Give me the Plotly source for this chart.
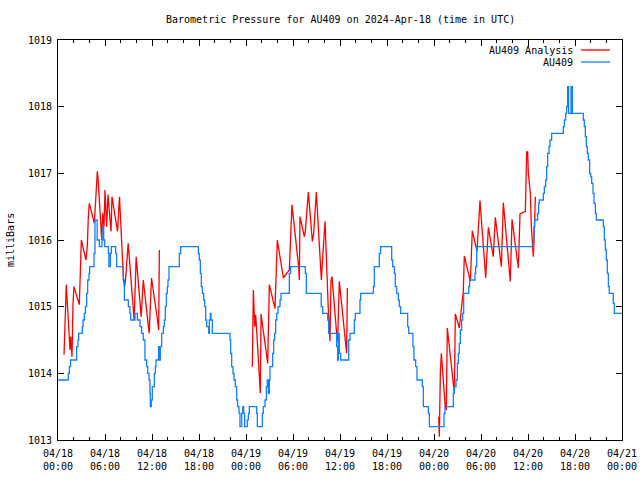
import plotly.graph_objects as go

# Time axis: hours since 2024-04-18 00:00 UTC
tick_hours = [0, 6, 12, 18, 24, 30, 36, 42, 48, 54, 60, 66, 72]
tick_labels = ["04/18<br>00:00", "04/18<br>06:00", "04/18<br>12:00", "04/18<br>18:00",
               "04/19<br>00:00", "04/19<br>06:00", "04/19<br>12:00", "04/19<br>18:00",
               "04/20<br>00:00", "04/20<br>06:00", "04/20<br>12:00", "04/20<br>18:00",
               "04/21<br>00:00"]
y_ticks = [1013, 1014, 1015, 1016, 1017, 1018, 1019]

# AU409 observations (step series)
blue_hours = [0, 1.32, 1.45, 1.6, 2.38, 2.55, 2.64, 3.1, 3.2, 3.36, 3.5, 3.66, 3.79, 3.96, 4.04,
              4.6, 4.72, 5.0, 5.28, 5.62, 5.75, 5.83, 5.96, 6.43, 6.5, 6.68, 6.81, 7.36, 7.49,
              8.34, 8.47, 8.98, 9.19, 9.28, 9.83, 10.13, 10.47, 10.68, 10.89, 11.1, 11.32,
              11.45, 11.62, 11.74, 11.79, 11.91, 12.04, 12.3, 12.43, 12.51, 12.85, 12.94,
              13.06, 13.24, 13.45, 13.57, 13.7, 13.83, 13.96, 14.04, 14.17, 15.49, 15.66,
              17.92, 18.04, 18.17, 18.3, 18.43, 18.6, 18.72, 18.85, 18.98, 19.11, 19.24,
              19.32, 19.45, 19.53, 19.7, 21.96, 22.04, 22.17, 22.34, 22.47, 22.64, 22.81,
              22.93, 23.11, 23.23, 23.45, 23.58, 23.7, 23.83, 24.17, 24.3, 24.43, 25.36,
              25.45, 26.09, 26.21, 26.43, 26.6, 26.72, 26.85, 26.98, 27.06, 27.4, 27.53,
              27.66, 27.79, 27.92, 28.09, 28.34, 28.47, 29.53, 29.7, 31.57, 31.7, 33.6,
              33.79, 34.43, 34.55, 35.57, 35.7, 35.79, 35.91, 36.09, 37.11, 37.28, 37.83,
              37.96, 38.55, 38.64, 40.26, 40.38, 41.02, 41.19, 42.6, 42.72, 42.94, 43.06,
              43.24, 43.45, 43.57, 43.74, 44.64, 44.77, 45.31, 45.44, 45.66, 45.83, 46.51,
              46.64, 47.28, 47.41, 49.28, 49.41, 50.47, 50.6, 50.81, 50.98, 51.11, 51.23,
              51.36, 51.53, 51.66, 51.79, 52.43, 52.55, 53.23, 53.32, 53.45, 60.68, 60.77,
              60.85, 61.23, 61.36, 61.45, 61.96, 62.09, 62.26, 62.38, 62.51, 62.68, 62.81,
              63.02, 64.51, 64.64, 64.81, 64.94, 65.06, 65.19, 65.5, 65.66, 67.06, 67.19,
              67.32, 67.45, 67.57, 67.7, 67.87, 68.0, 68.13, 68.3, 68.43, 68.6, 68.72,
              69.62, 69.74, 69.87, 70.0, 70.13, 70.26, 70.38, 70.89, 71.02, 72.0]
blue_mbar = [1013.9, 1014.0, 1014.1, 1014.2, 1014.4, 1014.5, 1014.6, 1014.7, 1014.8, 1014.9,
             1015.0, 1015.2, 1015.4, 1015.5, 1015.6, 1015.8, 1016.3, 1016.0, 1015.9, 1016.1,
             1016.2, 1016.0, 1015.9, 1015.8, 1015.6, 1015.8, 1015.9, 1015.8, 1015.6, 1015.4,
             1015.1, 1015.0, 1014.9, 1014.8, 1014.9, 1014.8, 1014.7, 1014.6, 1014.5, 1014.2,
             1014.1, 1014.0, 1013.9, 1013.7, 1013.5, 1013.6, 1013.8, 1014.0, 1014.1, 1014.2,
             1014.4, 1014.2, 1014.4, 1014.6, 1014.7, 1014.8, 1015.0, 1015.2, 1015.3, 1015.4,
             1015.6, 1015.8, 1015.9, 1015.8, 1015.7, 1015.5, 1015.3, 1015.2, 1015.1, 1015.0,
             1014.8, 1014.7, 1014.7, 1014.6, 1014.8, 1014.9, 1014.8, 1014.6, 1014.5, 1014.3,
             1014.1, 1014.0, 1013.9, 1013.8, 1013.6, 1013.5, 1013.4, 1013.2, 1013.4, 1013.5,
             1013.4, 1013.2, 1013.3, 1013.4, 1013.5, 1013.4, 1013.2, 1013.4, 1013.5, 1013.6,
             1013.8, 1013.9, 1013.7, 1013.9, 1014.1, 1014.3, 1014.5, 1014.6, 1014.8, 1014.9,
             1015.0, 1015.1, 1015.2, 1015.5, 1015.6, 1015.5, 1015.2, 1015.0, 1014.9, 1014.8,
             1014.6, 1014.4, 1014.2, 1014.6, 1014.3, 1014.2, 1014.5, 1014.6, 1014.8, 1014.9,
             1015.1, 1015.2, 1015.3, 1015.6, 1015.8, 1015.9, 1015.7, 1015.6, 1015.5, 1015.3,
             1015.2, 1015.1, 1015.0, 1014.9, 1014.7, 1014.6, 1014.4, 1014.2, 1014.1, 1013.9,
             1013.8, 1013.5, 1013.4, 1013.2, 1013.4, 1013.5, 1013.7, 1013.8, 1013.9, 1014.15,
             1014.3, 1014.45, 1014.65, 1014.8, 1014.9, 1015.2, 1015.3, 1015.4, 1015.5, 1015.6,
             1015.9, 1016.0, 1016.2, 1016.3, 1016.4, 1016.55, 1016.6, 1016.7, 1016.8, 1016.9,
             1017.1, 1017.3, 1017.4, 1017.5, 1017.6, 1017.7, 1017.8, 1017.9, 1018.0, 1018.3,
             1017.9, 1018.3, 1017.9, 1017.8, 1017.7, 1017.55, 1017.4, 1017.3, 1017.2, 1017.0,
             1016.95, 1016.85, 1016.7, 1016.55, 1016.4, 1016.3, 1016.2, 1016.0, 1015.85,
             1015.7, 1015.5, 1015.3, 1015.2, 1015.05, 1014.9, 1014.9]

# AU409 Analysis (three separate stretches)
red_hours_1 = [0.77, 0.85, 0.94, 1.06, 1.19, 1.36, 1.53, 1.62, 1.79, 1.91, 2.04, 2.72, 2.85,
               2.98, 3.57, 3.74, 3.87, 4.0, 4.64, 4.81, 4.94, 5.02, 5.11, 5.45, 5.58, 5.7,
               5.87, 6.0, 6.21, 6.38, 6.77, 6.89, 7.6, 7.72, 7.85, 8.36, 8.49, 8.6, 8.96,
               9.72, 9.98, 10.62, 10.89, 11.64, 11.94, 12.7, 12.85, 12.94]
red_mbar_1 = [1014.28, 1014.55, 1015.05, 1015.33, 1015.05, 1014.7, 1014.35, 1014.55, 1014.25,
              1015.03, 1015.3, 1015.03, 1015.53, 1016.0, 1015.7, 1015.9, 1016.35, 1016.55,
              1016.25, 1016.6, 1016.83, 1017.03, 1016.93, 1016.15, 1016.0, 1016.4, 1016.2,
              1016.75, 1016.2, 1016.68, 1016.13, 1016.65, 1016.13, 1016.38, 1016.65, 1015.4,
              1015.3, 1015.38, 1015.95, 1014.8, 1015.75, 1014.85, 1015.4, 1014.6, 1015.43,
              1014.8, 1014.65, 1015.85]
red_hours_2 = [24.81, 24.94, 25.11, 25.23, 25.36, 25.83, 25.92, 26.77, 26.98, 27.7, 28.0,
               28.77, 29.53, 29.87, 30.72, 30.81, 30.89, 31.45, 31.57, 31.96, 32.47, 32.64,
               32.98, 33.62, 33.74, 34.09, 34.51, 34.72, 34.85, 34.98, 35.57, 35.7, 35.91,
               36.68, 36.85, 36.94]
red_mbar_2 = [1014.1, 1015.25, 1014.7, 1014.88, 1014.65, 1013.7, 1014.89, 1014.15, 1015.33,
              1014.97, 1016.0, 1015.43, 1015.55, 1016.53, 1015.6, 1015.4, 1016.35, 1016.05,
              1016.13, 1016.72, 1015.98, 1016.1, 1016.72, 1015.4, 1015.65, 1016.28, 1014.95,
              1014.48, 1015.4, 1015.45, 1014.6, 1014.48, 1015.38, 1014.4, 1014.3, 1015.28]
red_hours_3 = [48.6, 48.68, 48.81, 48.94, 49.45, 49.57, 49.7, 50.6, 50.72, 51.23, 51.74, 51.87,
               52.64, 52.89, 53.49, 53.87, 54.6, 54.94, 55.57, 55.83, 56.6, 56.85, 57.74,
               57.96, 58.47, 58.77, 58.98, 59.66, 59.83, 59.96, 60.04, 60.3, 60.43, 60.55,
               60.68, 60.77, 60.94]
red_mbar_3 = [1013.35, 1013.05, 1014.0, 1014.3, 1013.48, 1013.45, 1014.68, 1013.7, 1014.89,
              1014.68, 1015.23, 1015.76, 1015.38, 1016.14, 1015.83, 1016.59, 1015.43, 1016.19,
              1015.75, 1016.34, 1015.6, 1016.56, 1015.38, 1016.31, 1015.85, 1015.58, 1016.39,
              1016.43, 1017.32, 1017.32, 1017.0, 1016.7, 1016.2, 1015.95, 1015.75, 1016.0,
              1016.65]

red_x = red_hours_1 + [None] + red_hours_2 + [None] + red_hours_3
red_y = red_mbar_1 + [None] + red_mbar_2 + [None] + red_mbar_3

RED = "#ff0000"
BLUE = "#1080ff"
FONT = "DejaVu Sans Mono"

fig = go.Figure()
fig.add_trace(go.Scatter(x=red_x, y=red_y, mode="lines", name="AU409 Analysis",
                         line=dict(color=RED, width=1.3), connectgaps=False))
fig.add_trace(go.Scatter(x=blue_hours, y=blue_mbar, mode="lines", name="AU409",
                         line=dict(color=BLUE, width=1.3, shape="hv")))

# plot area: x 58..622, y 40..440 px
def px_x(p):
    return (p - 58) / 564.0

def px_y(p):
    return 1 - (p - 40) / 400.0

annotations = [
    dict(text="Barometric Pressure for AU409 on 2024-Apr-18 (time in UTC)",
         xref="paper", yref="paper", x=0.5, y=px_y(20), showarrow=False,
         xanchor="center", yanchor="middle", font=dict(family=FONT, size=10, color="black")),
    dict(text="milliBars", xref="paper", yref="paper", x=px_x(10), y=0.5, textangle=-90,
         showarrow=False, xanchor="center", yanchor="middle",
         font=dict(family=FONT, size=10, color="black")),
    dict(text="AU409 Analysis", xref="paper", yref="paper", x=px_x(575), y=px_y(50),
         showarrow=False, xanchor="right", yanchor="middle",
         font=dict(family=FONT, size=10, color="black")),
    dict(text="AU409", xref="paper", yref="paper", x=px_x(575), y=px_y(62),
         showarrow=False, xanchor="right", yanchor="middle",
         font=dict(family=FONT, size=10, color="black")),
]
shapes = [
    dict(type="line", xref="paper", yref="paper", x0=px_x(581), x1=px_x(610),
         y0=px_y(50), y1=px_y(50), line=dict(color=RED, width=1.3)),
    dict(type="line", xref="paper", yref="paper", x0=px_x(581), x1=px_x(610),
         y0=px_y(62), y1=px_y(62), line=dict(color=BLUE, width=1.3)),
]

fig.update_layout(
    width=640, height=480,
    margin=dict(l=58, r=18, t=40, b=40, pad=0, autoexpand=False),
    paper_bgcolor="white", plot_bgcolor="white",
    showlegend=False,
    font=dict(family=FONT, size=10, color="black"),
    annotations=annotations, shapes=shapes,
    xaxis=dict(range=[0, 72], tickmode="array", tickvals=tick_hours, ticktext=tick_labels,
               ticks="inside", ticklen=6, tickwidth=1, tickcolor="black",
               showline=True, linecolor="black", linewidth=1, mirror="ticks",
               showgrid=False, zeroline=False, automargin=False, ticklabelstandoff=4,
               minor=dict(dtick=2, tick0=0, ticks="inside", ticklen=3, tickcolor="black",
                          showgrid=False),
               tickfont=dict(family=FONT, size=10, color="black")),
    yaxis=dict(range=[1013, 1019], tickmode="array", tickvals=y_ticks,
               ticktext=[str(v) for v in y_ticks],
               ticks="inside", ticklen=6, tickwidth=1, tickcolor="black",
               showline=True, linecolor="black", linewidth=1, mirror="ticks",
               showgrid=False, zeroline=False, automargin=False, ticklabelstandoff=3,
               tickfont=dict(family=FONT, size=10, color="black")),
)

fig.write_html("out.html", config={"displayModeBar": False},
               post_script="document.body.style.margin='0';document.body.style.overflow='hidden';")
